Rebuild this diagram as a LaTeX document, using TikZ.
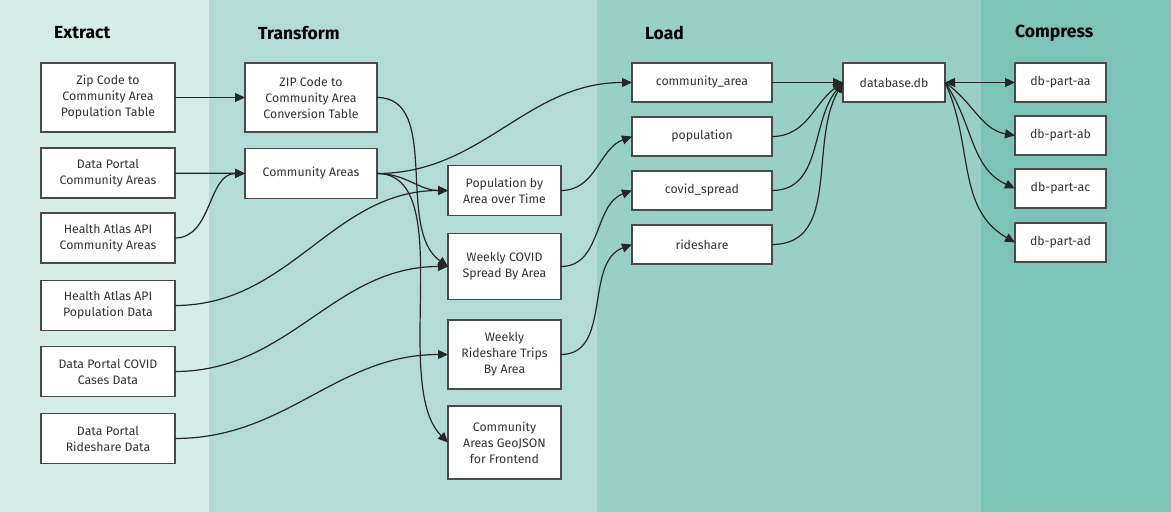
\documentclass[tikz,border=0pt]{standalone}
\usepackage{fontspec}
\setmainfont{Fira Sans}
\usetikzlibrary{arrows.meta}
\definecolor{bandA}{HTML}{D5ECE7}
\definecolor{bandB}{HTML}{B3DCD6}
\definecolor{bandC}{HTML}{98D0C6}
\definecolor{bandD}{HTML}{7DC4B8}
\definecolor{boxline}{HTML}{4A4A4A}
\definecolor{inktext}{HTML}{333333}
\newcommand{\stagetitle}[3]{\node[stagehead, anchor=west] (#1) at (#2,33) {#3};}

\begin{document}
\begin{tikzpicture}[x=1pt, y=-1pt]
  \tikzset{
    box/.style={draw=boxline, fill=white, line width=1.3pt, align=center,
      inner sep=0pt, outer sep=0pt, text=inktext,
      font=\fontsize{12.3}{16}\selectfont},
    srcbox/.style={box, minimum width=134pt, minimum height=50pt},
    tfbox/.style={box, minimum width=132pt, minimum height=50pt},
    outbox/.style={box, minimum width=113pt, minimum height=50pt},
    tblbox/.style={box, minimum width=140pt, minimum height=39pt},
    dbbox/.style={box, minimum width=102pt, minimum height=39pt},
    partbox/.style={box, minimum width=91pt, minimum height=39pt},
    stagehead/.style={font=\fontsize{17.5}{20}\selectfont\bfseries, text=black, inner sep=0pt},
    flow/.style={draw=black!85, line width=1.2pt, -{Triangle[length=10pt,width=9pt]}}
  }
  \fill[bandA] (0,0) rectangle (209,513);
  \fill[bandB] (209,0) rectangle (597,513);
  \fill[bandC] (597,0) rectangle (981,513);
  \fill[bandD] (981,0) rectangle (1171,513);
  \fill[black!18] (0,511.5) rectangle (1171,513);

  \stagetitle{hExtract}{54}{Extract}
  \stagetitle{hTransform}{258}{Transform}
  \stagetitle{hLoad}{645}{Load}
  \stagetitle{hCompress}{1015}{Compress}

  \node[srcbox, minimum height=69pt] (zipPop) at (108,97.5) {Zip Code to\\Community Area\\Population Table};
  \node[srcbox] (portalAreas) at (108,173) {Data Portal\\Community Areas};
  \node[srcbox] (atlasAreas) at (108,238) {Health Atlas API\\Community Areas};
  \node[srcbox] (atlasPop) at (108,305.5) {Health Atlas API\\Population Data};
  \node[srcbox] (portalCovid) at (108,371.5) {Data Portal COVID\\Cases Data};
  \node[srcbox] (portalRide) at (108,438.5) {Data Portal\\Rideshare Data};

  \node[tfbox, minimum height=69pt] (zipConv) at (311,97.5) {ZIP Code to\\Community Area\\Conversion Table};
  \node[tfbox] (areas) at (311,173.5) {Community Areas};

  \node[outbox] (popTime) at (504.5,190.5) {Population by\\Area over Time};
  \node[outbox, minimum height=66pt] (covidWeek) at (504.5,266.5) {Weekly COVID\\Spread By Area};
  \node[outbox, minimum height=69pt] (rideWeek) at (504.5,354.5) {Weekly\\Rideshare Trips\\By Area};
  \node[outbox, minimum height=73pt] (geoJson) at (504.5,442.5) {Community\\Areas GeoJSON\\for Frontend};

  \node[tblbox] (tArea) at (702,82.5) {community\_area};
  \node[tblbox] (tPop) at (702,136.5) {population};
  \node[tblbox] (tCovid) at (702,190.5) {covid\_spread};
  \node[tblbox] (tRide) at (702,244.5) {rideshare};

  \node[dbbox] (db) at (894,82.5) {database.db};

  \node[partbox] (partA) at (1060.5,82.5) {db-part-aa};
  \node[partbox] (partB) at (1060.5,135.5) {db-part-ab};
  \node[partbox] (partC) at (1060.5,188.5) {db-part-ac};
  \node[partbox] (partD) at (1060.5,242.5) {db-part-ad};

  \draw[flow] (zipPop) -- (zipConv);
  \draw[flow] (portalAreas) -- (areas);
  \draw[flow] (atlasAreas.east) to[out=0, in=180] (areas.west);
  \draw[flow] (atlasPop.east) to[out=0, in=180] (popTime.west);
  \draw[flow] (portalCovid.east) to[out=0, in=180] (covidWeek.west);
  \draw[flow] (portalRide.east) to[out=0, in=180] (rideWeek.west);

  \draw[flow] (zipConv.east) to[out=0, in=145, looseness=0.9] (covidWeek.west);
  \draw[flow] (areas.east) to[out=0, in=180] (tArea.west);
  \draw[flow] (areas.east) to[out=0, in=180] (popTime.west);
  \draw[flow] (areas.east) to[out=0, in=135, looseness=0.75] (geoJson.west);

  \draw[flow] (popTime.east) to[out=0, in=200] (tPop.west);
  \draw[flow] (covidWeek.east) to[out=0, in=200] (tCovid.west);
  \draw[flow] (rideWeek.east) to[out=0, in=200] (tRide.west);

  \draw[flow] (tArea) -- (db);
  \draw[flow] (tPop.east) to[out=0, in=215] (db.west);
  \draw[flow] (tCovid.east) to[out=0, in=230] (db.west);
  \draw[flow] (tRide.east) to[out=0, in=240] (db.west);

  \draw[flow, {Triangle[length=10pt,width=9pt]}-{Triangle[length=10pt,width=9pt]}] (db) -- (partA);
  \draw[flow] (db.east) to[out=-35, in=170] (partB.west);
  \draw[flow] (db.east) to[out=-55, in=155] (partC.west);
  \draw[flow] (db.east) to[out=-65, in=150] (partD.west);
\end{tikzpicture}
\end{document}
